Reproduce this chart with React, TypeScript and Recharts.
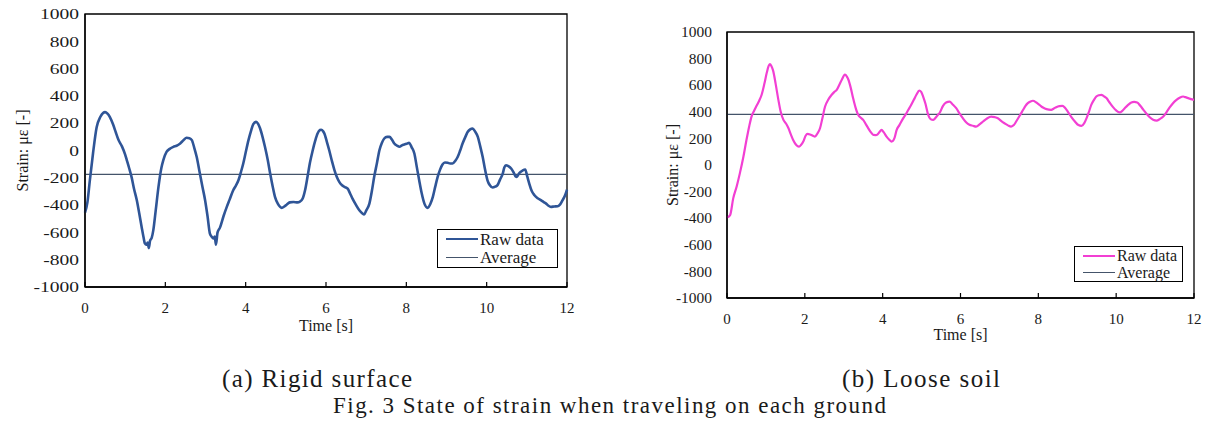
import { LineChart, Line, XAxis, YAxis, ReferenceLine, ReferenceArea, Legend } from 'recharts';

// (a) rigid surface: time [s] and strain [µε]
const rigidTime = [
  0, 0.06, 0.12, 0.2, 0.29, 0.38, 0.45, 0.5, 0.56, 0.62, 0.7, 0.77, 0.83, 0.92, 1.0, 1.04, 1.1, 1.16, 1.22, 1.29,
  1.35, 1.41, 1.46, 1.49, 1.53, 1.56, 1.59, 1.62, 1.66, 1.7, 1.76, 1.83, 1.9, 1.95, 2.03, 2.1, 2.2, 2.28, 2.37, 2.45,
  2.53, 2.6, 2.66, 2.72, 2.78, 2.86, 2.92, 2.99, 3.05, 3.11, 3.15, 3.2, 3.23, 3.26, 3.3, 3.36, 3.45, 3.53, 3.6, 3.69,
  3.76, 3.82, 3.88, 3.94, 4.0, 4.07, 4.13, 4.19, 4.26, 4.31, 4.36, 4.42, 4.48, 4.55, 4.61, 4.67, 4.73, 4.8, 4.9, 4.96,
  5.02, 5.1, 5.19, 5.29, 5.35, 5.42, 5.48, 5.54, 5.6, 5.67, 5.73, 5.79, 5.85, 5.88, 5.93, 5.96, 6.02, 6.08, 6.15, 6.21,
  6.27, 6.33, 6.4, 6.47, 6.54, 6.6, 6.66, 6.75, 6.83, 6.9, 6.95, 7.0, 7.08, 7.14, 7.2, 7.27, 7.33, 7.39, 7.45, 7.52,
  7.58, 7.64, 7.7, 7.77, 7.83, 7.89, 7.95, 8.01, 8.07, 8.13, 8.2, 8.26, 8.32, 8.38, 8.45, 8.53, 8.6, 8.66, 8.72, 8.78,
  8.84, 8.9, 8.96, 9.03, 9.09, 9.15, 9.22, 9.28, 9.34, 9.4, 9.47, 9.53, 9.59, 9.65, 9.71, 9.78, 9.84, 9.9, 9.96, 10.02,
  10.08, 10.15, 10.21, 10.27, 10.33, 10.4, 10.44, 10.48, 10.54, 10.61, 10.67, 10.72, 10.75, 10.8, 10.85, 10.9, 10.96,
  11.01, 11.06, 11.12, 11.19, 11.27, 11.35, 11.42, 11.48, 11.54, 11.6, 11.68, 11.77, 11.83, 11.89, 11.95, 12,
];
const rigidStrain = [
  -455, -380, -220, -20, 170, 245, 275, 281, 270, 245, 190, 130, 80, 30, -30, -70, -130, -195, -280, -365,
  -460, -560, -640, -680, -690, -675, -715, -660, -640, -585, -440, -265, -130, -70, -10, 10, 27, 35, 52, 75,
  93, 90, 76, 20, -46, -169, -260, -364, -480, -609, -630, -645, -630, -690, -600, -565, -480, -413, -360, -291,
  -255, -218, -160, -95, -15, 76, 140, 193, 210, 195, 161, 100, 27, -70, -169, -260, -340, -390, -420, -410,
  -397, -380, -377, -380, -375, -352, -290, -193, -90, 2, 70, 125, 150, 152, 140, 125, 65, 2, -80, -144,
  -195, -230, -255, -268, -280, -315, -352, -400, -438, -460, -469, -440, -389, -300, -193, -90, 2, 55, 88, 100,
  100, 80, 51, 35, 27, 38, 44, 50, 56, 25, -22, -120, -218, -310, -389, -420, -390, -340, -265, -193,
  -140, -103, -88, -90, -95, -95, -75, -46, 0, 51, 100, 137, 155, 161, 140, 100, 30, -46, -140, -218,
  -255, -271, -265, -254, -215, -169, -125, -108, -115, -132, -160, -190, -193, -170, -156, -145, -139,
  -190, -242, -295, -328, -350, -364, -378, -389, -405, -413, -410, -408, -395, -364, -330, -286,
];
const rigidAverage = -175;

// (b) loose soil
const looseTime = [
  0, 0.08, 0.16, 0.25, 0.33, 0.42, 0.5, 0.57, 0.63, 0.7, 0.76, 0.83, 0.89, 0.96, 1.02, 1.07, 1.1, 1.14, 1.19, 1.25,
  1.32, 1.38, 1.45, 1.52, 1.58, 1.64, 1.7, 1.78, 1.85, 1.9, 1.96, 2.02, 2.07, 2.15, 2.26, 2.32, 2.39, 2.45, 2.52, 2.6,
  2.69, 2.76, 2.82, 2.89, 2.95, 3.03, 3.08, 3.12, 3.18, 3.24, 3.3, 3.37, 3.44, 3.5, 3.57, 3.63, 3.7, 3.76, 3.82, 3.87,
  3.92, 3.97, 4.03, 4.1, 4.17, 4.23, 4.3, 4.36, 4.43, 4.53, 4.6, 4.66, 4.72, 4.8, 4.87, 4.94, 4.99, 5.04, 5.1, 5.17,
  5.23, 5.3, 5.36, 5.42, 5.47, 5.55, 5.63, 5.72, 5.8, 5.89, 5.97, 6.06, 6.15, 6.23, 6.32, 6.4, 6.49, 6.58, 6.68, 6.79,
  6.88, 6.96, 7.05, 7.13, 7.22, 7.3, 7.37, 7.43, 7.52, 7.61, 7.67, 7.73, 7.8, 7.86, 7.95, 8.03, 8.12, 8.21, 8.33, 8.4,
  8.46, 8.54, 8.62, 8.69, 8.76, 8.85, 8.94, 9.03, 9.11, 9.18, 9.24, 9.3, 9.36, 9.43, 9.49, 9.56, 9.62, 9.68, 9.75, 9.83,
  9.92, 10.0, 10.09, 10.15, 10.22, 10.3, 10.39, 10.46, 10.54, 10.62, 10.7, 10.78, 10.87, 10.95, 11.04, 11.12, 11.21,
  11.3, 11.38, 11.46, 11.55, 11.63, 11.72, 11.78, 11.85, 11.92, 12,
];
const looseStrain = [
  -395, -377, -251, -160, -63, 60, 188, 290, 364, 410, 445, 485, 528, 610, 691, 745, 759, 745, 704, 610,
  490, 400, 339, 310, 276, 230, 188, 150, 138, 150, 176, 220, 234, 228, 214, 235, 276, 350, 440, 490,
  528, 550, 565, 605, 641, 679, 665, 641, 580, 503, 435, 377, 355, 339, 305, 276, 245, 226, 225, 231,
  248, 264, 245, 214, 190, 176, 200, 264, 300, 352, 384, 415, 445, 490, 530, 560, 550, 515, 460, 377,
  345, 339, 355, 377, 395, 445, 470, 477, 455, 427, 390, 352, 320, 302, 295, 289, 305, 327, 350, 364,
  360, 352, 330, 314, 298, 289, 300, 327, 370, 415, 445, 465, 478, 483, 470, 452, 432, 420, 415, 425,
  435, 443, 445, 428, 400, 360, 327, 300, 294, 315, 352, 400, 452, 490, 515, 525, 528, 518, 503, 470,
  435, 410, 395, 405, 427, 450, 470, 474, 470, 445, 415, 385, 357, 340, 334, 345, 364,
  400, 435, 465, 490, 505, 515, 510, 503, 495, 490,
];
const looseAverage = 380;

const timeTicks = [0, 2, 4, 6, 8, 10, 12];
const strainTicks = [-1000, -800, -600, -400, -200, 0, 200, 400, 600, 800, 1000];

const FONT = '"Liberation Serif", "Times New Roman", serif';
const TEXT = '#1a1a1a';
const AVG_COLOR = '#44546A';

interface LegendBoxProps {
  color: string;
  width: number;
  fontSize: number;
  rowHeight: number;
}

function LegendBox({ color, width, fontSize, rowHeight }: LegendBoxProps) {
  const row = { display: 'flex', alignItems: 'center', height: rowHeight };
  return (
    <div
      style={{
        width,
        boxSizing: 'border-box',
        border: '1.5px solid #000',
        background: '#fff',
        padding: '0 0 0 8px',
        fontFamily: FONT,
        fontSize,
        color: TEXT,
        lineHeight: 1,
      }}
    >
      <div style={row}>
        <span style={{ width: 32, borderTop: `2.5px solid ${color}`, marginRight: 2 }} />
        Raw data
      </div>
      <div style={row}>
        <span style={{ width: 32, borderTop: `1.3px solid ${AVG_COLOR}`, marginRight: 2 }} />
        Average
      </div>
    </div>
  );
}

// strain tick label, optionally widened horizontally
function StrainTick(props: any) {
  const { x, y, payload, stretch } = props;
  return (
    <g transform={`translate(${x},${y})`}>
      <text
        transform={`scale(${stretch},1)`}
        textAnchor="end"
        dy="0.35em"
        fill={TEXT}
        fontSize={15}
        fontFamily={FONT}
      >
        {payload.value}
      </text>
    </g>
  );
}

interface StrainChartProps {
  time: number[];
  strain: number[];
  average: number;
  color: string;
  lineWidth: number;
  width: number;
  height: number;
  margin: { top: number; right: number; bottom: number; left: number };
  yLabelOffset: number;
  yTickGap: number;
  yTickStretch: number;
  xLabelOffset: number;
  legend: { left: number; top: number; width: number; fontSize: number; rowHeight: number };
}

function StrainChart(props: StrainChartProps) {
  const { time, strain, average, color, lineWidth, width, height, margin, legend } = props;
  const data = time.map((t, i) => ({ t, strain: strain[i] }));

  return (
    <LineChart width={width} height={height} data={data} margin={margin}>
      <XAxis
        dataKey="t"
        type="number"
        domain={[0, 12]}
        ticks={timeTicks}
        height={50}
        tick={{ fill: TEXT, fontSize: 15, fontFamily: FONT }}
        tickSize={-5}
        tickMargin={20}
        tickLine={{ stroke: '#000', strokeWidth: 1.2 }}
        axisLine={{ stroke: '#000', strokeWidth: 1.3 }}
        label={{
          value: 'Time [s]',
          position: 'insideBottom',
          offset: props.xLabelOffset,
          fill: TEXT,
          fontSize: 16,
          fontFamily: FONT,
        }}
      />
      <YAxis
        type="number"
        domain={[-1000, 1000]}
        ticks={strainTicks}
        width={75}
        tick={<StrainTick stretch={props.yTickStretch} />}
        tickLine={false}
        tickSize={0}
        tickMargin={props.yTickGap}
        axisLine={{ stroke: '#000', strokeWidth: 1.3 }}
        label={{
          value: 'Strain: με [-]',
          angle: -90,
          position: 'insideLeft',
          offset: props.yLabelOffset,
          fill: TEXT,
          fontSize: 16,
          fontFamily: FONT,
          style: { textAnchor: 'middle' },
        }}
      />
      {/* plot frame */}
      <ReferenceArea x1={0} x2={12} y1={-1000} y2={1000} fill="none" stroke="#000" strokeWidth={1.3} />
      <ReferenceLine y={average} stroke={AVG_COLOR} strokeWidth={1.3} />
      <Line
        type="monotone"
        dataKey="strain"
        stroke={color}
        strokeWidth={lineWidth}
        dot={false}
        isAnimationActive={false}
      />
      <Legend
        layout="horizontal"
        align="center"
        verticalAlign="middle"
        wrapperStyle={{ left: legend.left, top: legend.top, width: legend.width }}
        content={() => (
          <LegendBox color={color} width={legend.width} fontSize={legend.fontSize} rowHeight={legend.rowHeight} />
        )}
      />
    </LineChart>
  );
}

export default function App() {
  return (
    <div style={{ position: 'absolute', left: 0, top: 0, width: 1207, height: 425, background: '#fff', overflow: 'hidden' }}>
      <div style={{ position: 'absolute', left: 0, top: 0 }}>
        <StrainChart
          time={rigidTime}
          strain={rigidStrain}
          average={rigidAverage}
          color="#2F5597"
          lineWidth={2.6}
          width={600}
          height={355}
          margin={{ top: 14, right: 33, bottom: 18, left: 10 }}
          yLabelOffset={12}
          yTickGap={6}
          yTickStretch={1.3}
          xLabelOffset={6}
          legend={{ left: 437, top: 229, width: 121, fontSize: 17, rowHeight: 18.5 }}
        />
      </div>
      <div style={{ position: 'absolute', left: 610, top: 0 }}>
        <StrainChart
          time={looseTime}
          strain={looseStrain}
          average={looseAverage}
          color="#F23FD3"
          lineWidth={2.2}
          width={597}
          height={355}
          margin={{ top: 32, right: 13, bottom: 7, left: 42 }}
          yLabelOffset={20}
          yTickGap={15}
          yTickStretch={1.03}
          xLabelOffset={8}
          legend={{ left: 464, top: 246, width: 109, fontSize: 16, rowHeight: 17 }}
        />
      </div>
      <svg width={1207} height={85} style={{ position: 'absolute', left: 0, top: 340 }}>
        <text x={222} y={47} fontFamily={FONT} fontSize={25} fill={TEXT} textLength={190} lengthAdjust="spacing">
          (a) Rigid surface
        </text>
        <text x={842} y={47} fontFamily={FONT} fontSize={25} fill={TEXT} textLength={158} lengthAdjust="spacing">
          (b) Loose soil
        </text>
        <text x={333} y={73} fontFamily={FONT} fontSize={23} fill={TEXT} textLength={553} lengthAdjust="spacing">
          Fig. 3 State of strain when traveling on each ground
        </text>
      </svg>
    </div>
  );
}
